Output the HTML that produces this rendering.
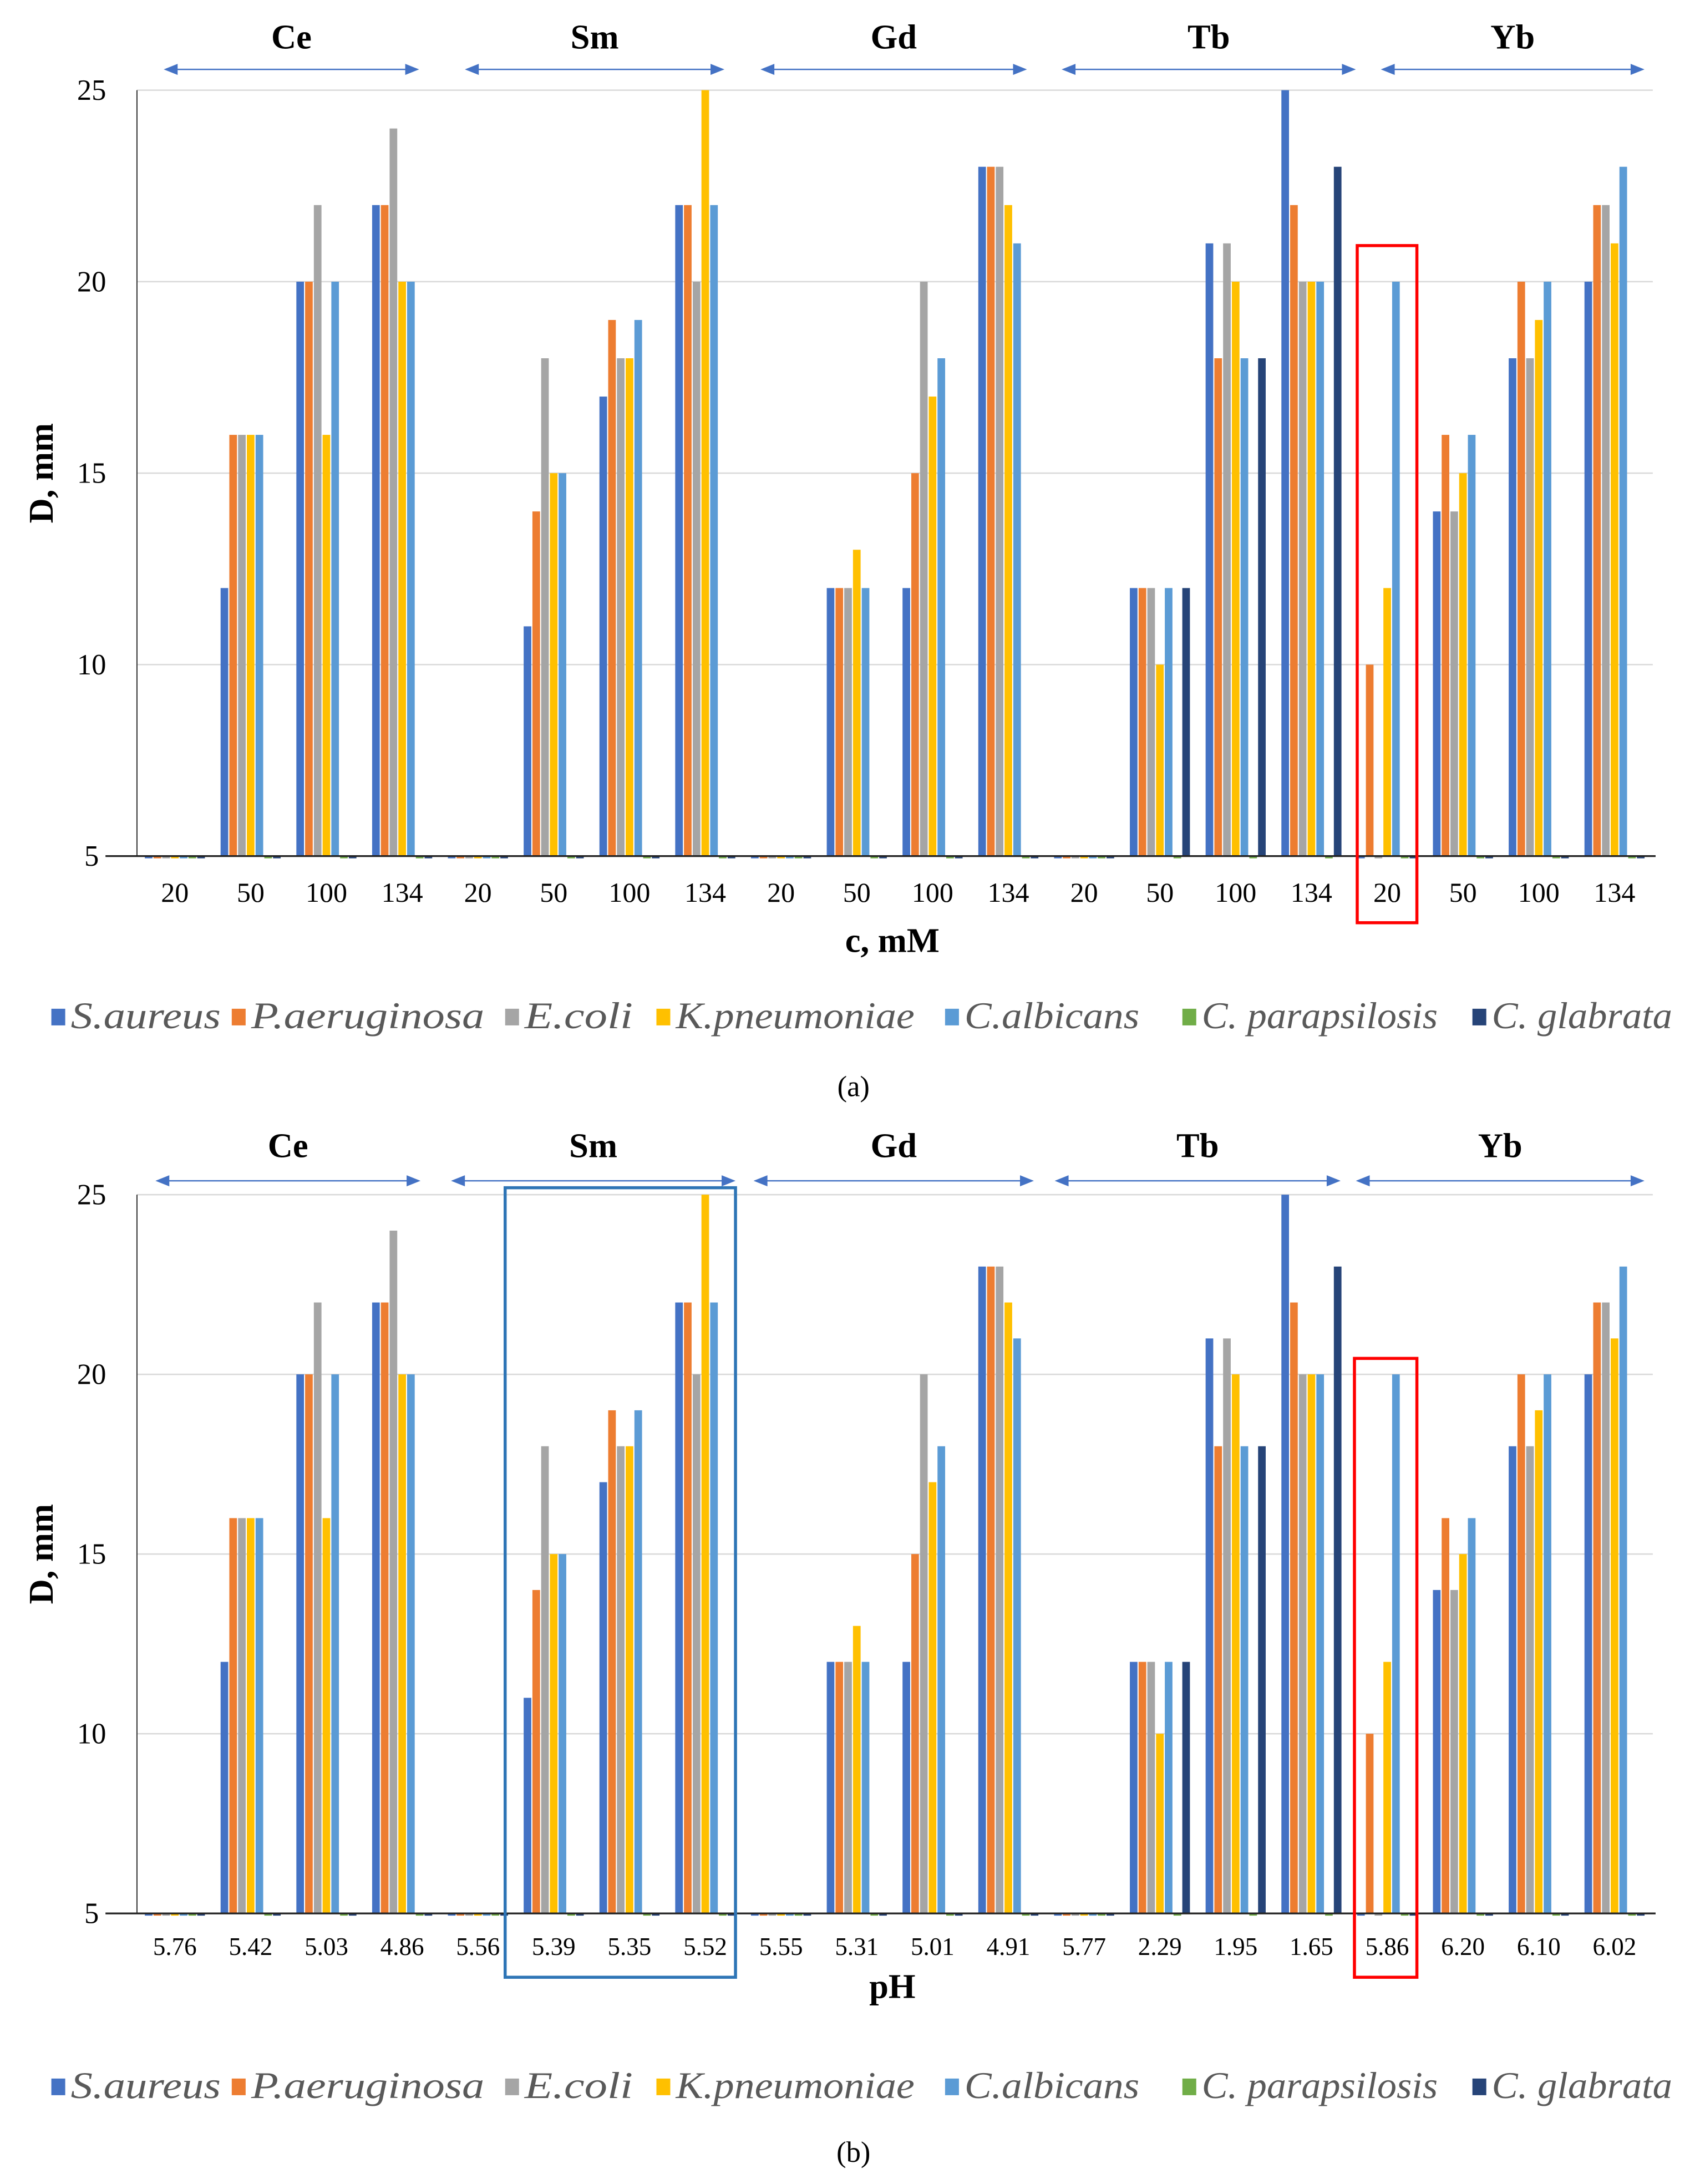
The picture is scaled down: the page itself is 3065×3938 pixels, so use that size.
<!DOCTYPE html>
<html><head><meta charset="utf-8"><style>
html,body{margin:0;padding:0;background:#fff;}
svg{display:block;}
text{font-family:"Liberation Serif",serif;}
</style></head><body>
<svg id="fig" width="3065" height="3938" viewBox="0 0 1225 1574" preserveAspectRatio="none" xmlns="http://www.w3.org/2000/svg"></svg>
<script>
const seriesNames = ["S.aureus","P.aeruginosa","E.coli","K.pneumoniae","C.albicans","C. parapsilosis","C. glabrata"];
const seriesColors = ["#4472c4","#ed7d31","#a5a5a5","#ffc000","#5b9bd5","#70ad47","#264478"];
const elements = ["Ce","Sm","Gd","Tb","Yb"];
const concLabels = ["20","50","100","134","20","50","100","134","20","50","100","134","20","50","100","134","20","50","100","134"];
const phLabels = ["5.76","5.42","5.03","4.86","5.56","5.39","5.35","5.52","5.55","5.31","5.01","4.91","5.77","2.29","1.95","1.65","5.86","6.20","6.10","6.02"];
const yTicks = [5,10,15,20,25];
const sAureus  = [5,12,20,22, 5,11,17,22, 5,12,12,23, 5,12,21,25, 5,14,18,20];
const pAerug   = [5,16,20,22, 5,14,19,22, 5,12,15,23, 5,12,18,22, 10,16,20,22];
const eColi    = [5,16,22,24, 5,18,18,20, 5,12,20,23, 5,12,21,20, 5,14,18,22];
const kPneu    = [5,16,16,20, 5,15,18,25, 5,13,17,22, 5,10,20,20, 12,15,19,21];
const cAlbic   = [5,16,20,20, 5,15,19,22, 5,12,18,21, 5,12,18,20, 20,16,20,23];
const cParaps  = [5,5,5,5, 5,5,5,5, 5,5,5,5, 5,5,5,5, 5,5,5,5];
const cGlabr   = [5,5,5,5, 5,5,5,5, 5,5,5,5, 5,12,18,23, 5,5,5,5];
const allSeries = [sAureus,pAerug,eColi,kPneu,cAlbic,cParaps,cGlabr];

const NS="http://www.w3.org/2000/svg";
const svg=document.getElementById('fig');
function mk(tag,attrs,parent){const e=document.createElementNS(NS,tag);for(const k in attrs)e.setAttribute(k,attrs[k]);(parent||svg).appendChild(e);return e;}

function drawChart(cfg){
  const g=mk('g',{});
  
  
  const x0=98.7, step=54.6, yBase=cfg.yBase, yTop=cfg.yTop;
  const yScale=v=>yBase-(v-5)/20*(yBase-yTop);
  const xCenter=i=>x0+(i+0.5)*step;
  yTicks.forEach(t=>{
    const y=yScale(t);
    if(t>5){const l=mk('line',{x1:x0,x2:1191,y1:y,y2:y,stroke:'#d9d9d9','stroke-width':1},g);
      }
    const tx=mk('text',{x:66,y:y+7,'font-size':21,'text-anchor':'middle',fill:'#000'},g);
    tx.textContent=t;
    
  });
  const ax=mk('line',{x1:x0,x2:x0,y1:yTop,y2:yBase,stroke:'#333','stroke-width':0.8},g);
  
  const bw=6.3;
  for(let i=0;i<concLabels.length;i++){
    const c=xCenter(i);
    allSeries.forEach((s,k)=>{
      const v=s[i];
      const x=c-3.5*bw+k*bw;
      let r;
      if(v<=5){r=mk('rect',{x:x+0.4,y:yBase,width:bw-0.8,height:1.6,fill:seriesColors[k]},g);}
      else{const y=yScale(v);r=mk('rect',{x:x+0.4,y:y,width:bw-0.8,height:yBase-y,fill:seriesColors[k]},g);}
      
      
    });
    const tl=mk('text',{x:c,y:yBase+cfg.tickDy,'font-size':cfg.tickSize,'text-anchor':'middle',fill:'#000'},g);
    tl.textContent=cfg.labels[i];
    
  }
  const bl=mk('line',{x1:76,x2:1193,y1:yBase,y2:yBase,stroke:'#222','stroke-width':1.3},g);
  
  elements.forEach((el,j)=>{
    const a=cfg.arrows[j];
    const t=mk('text',{x:(a[0]+a[1])/2,y:cfg.labelY,'font-size':25,'font-weight':'bold','text-anchor':'middle',fill:'#000'},g);
    t.textContent=el;
    
    const y=cfg.arrowY;
    const ln=mk('line',{x1:a[0]+8,x2:a[1]-8,y1:y,y2:y,stroke:'#4472c4','stroke-width':1},g);
    
    mk('polygon',{points:`${a[0]},${y} ${a[0]+10},${y-4} ${a[0]+10},${y+4}`,fill:'#4472c4'},g);
    mk('polygon',{points:`${a[1]},${y} ${a[1]-10},${y-4} ${a[1]-10},${y+4}`,fill:'#4472c4'},g);
  });
  const xt=mk('text',{x:643,y:cfg.xTitleY,'font-size':25,'font-weight':'bold','text-anchor':'middle',fill:'#000'},g);
  xt.textContent=cfg.xTitle;
  
  const ym=(yBase+yTop)/2;
  const yt=mk('text',{x:38,y:ym,'font-size':25,'font-weight':'bold','text-anchor':'middle',fill:'#000',transform:`rotate(-90 38 ${ym})`},g);
  yt.textContent='D, mm';
  
  const lx=[37,167,364,473,681,852,1061];
  const tw=[108,168,78,172,126,170,130];
  seriesNames.forEach((n,k)=>{
    const sq=mk('rect',{x:lx[k],y:cfg.legendY-11,width:10,height:12,fill:seriesColors[k]},g);
    
    const t=mk('text',{x:lx[k]+14,y:cfg.legendY+3,'font-size':27,'font-style':'italic',fill:'#595959',textLength:tw[k],lengthAdjust:'spacingAndGlyphs'},g);
    t.textContent=n;
    
  });
  const cap=mk('text',{x:615,y:cfg.capY,'font-size':21,'text-anchor':'middle',fill:'#000'},g);
  cap.textContent=cfg.caption;
  
  cfg.boxes.forEach(b=>{
    const r=mk('rect',{x:b[0],y:b[1],width:b[2]-b[0],height:b[3]-b[1],fill:'none',stroke:b[4],'stroke-width':2.2},g);
    
  });
}
drawChart({name:'chart-a',prefix:'a',yBase:617,yTop:65,labels:concLabels,tickDy:33,tickSize:20,labelY:35,arrowY:50,
  arrows:[[118,302],[335,522],[548,740],[765,977],[995,1185]],xTitle:'c, mM',xTitleY:686,legendY:738,capY:790,caption:'(a)',
  boxes:[[978,177,1021,665,'#ff0000']]});
drawChart({name:'chart-b',prefix:'b',yBase:1379,yTop:861,labels:phLabels,tickDy:30,tickSize:18,labelY:834,arrowY:851,
  arrows:[[112,303],[325,530],[543,745],[760,966],[977,1185]],xTitle:'pH',xTitleY:1440,legendY:1509,capY:1558,caption:'(b)',
  boxes:[[976,979,1021,1425,'#ff0000'],[364,856,530,1425,'#2e75b6']]});
</script>
</body></html>
